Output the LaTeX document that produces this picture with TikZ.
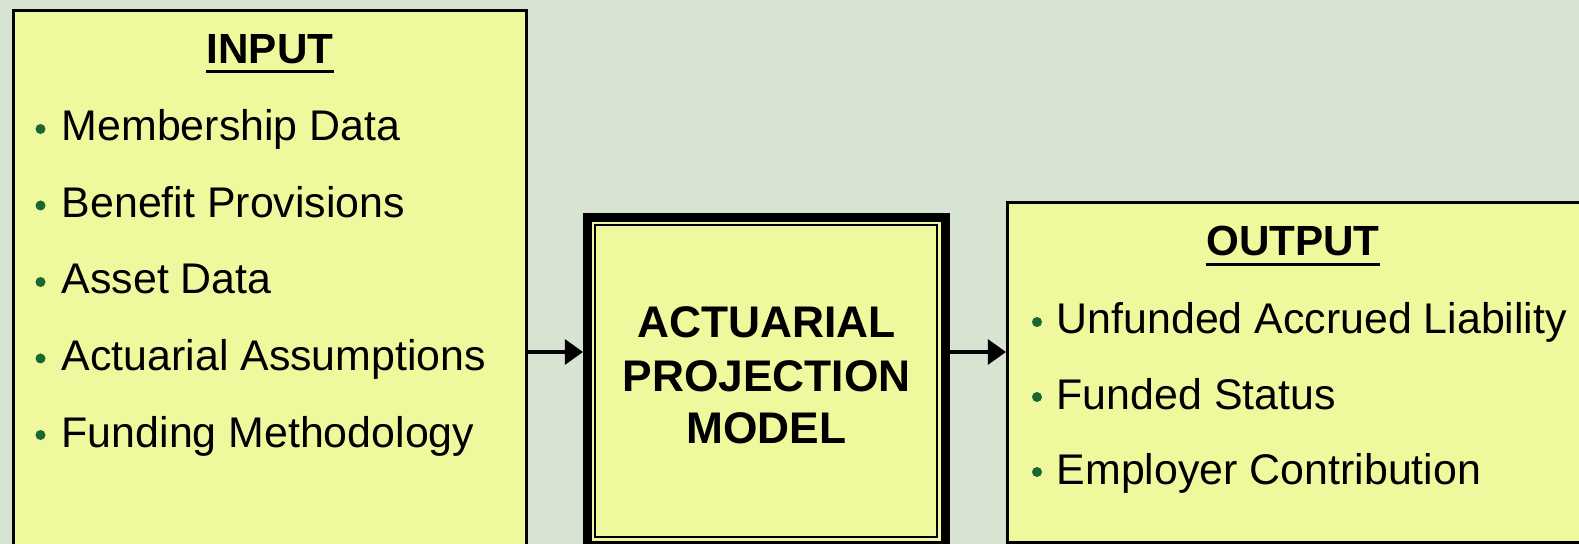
\documentclass[tikz,border=0pt]{standalone}
\usepackage{fontspec}
\setmainfont{Liberation Sans}
\usetikzlibrary{arrows.meta}

\definecolor{pagebg}{RGB}{216,228,210}
\definecolor{boxfill}{RGB}{239,248,156}
\definecolor{dotgreen}{RGB}{24,104,48}

\tikzset{
  box/.style={draw, fill=boxfill, line width=0.075cm, inner sep=0pt},
  item/.style={font=\fontsize{30.5}{36}\selectfont, inner sep=0pt, anchor=base west},
  head/.style={font=\fontsize{30}{36}\selectfont\bfseries, inner sep=0pt, anchor=base},
  flow/.style={line width=0.075cm, -{Triangle[length=0.45cm,width=0.625cm]}},
}

\begin{document}
\begin{tikzpicture}[x=0.025cm, y=-0.025cm]
  \fill[pagebg] (0,0) rectangle (1579,544);
  \useasboundingbox (0,0) rectangle (1579,544);
  \clip (0,0) rectangle (1579,544);

  % the three blocks (they run off the bottom of the page)
  \node[box, minimum width=12.825cm, minimum height=14.7375cm] (input) at (270,305.25) {};
  \node[box, line width=0.225cm, minimum width=8.95cm, minimum height=8.2cm] (model) at (766.5,381.5) {};
  \draw[line width=0.05cm] (595,225) rectangle (937,537);
  \node[box, minimum width=16.0625cm, minimum height=8.4875cm] (output) at (1328.75,372.25) {};

  % input list
  \node[head] (inhead) at (270,63.5) {INPUT};
  \draw[line width=0.075cm] ([yshift=-0.2cm]inhead.base west) -- ([yshift=-0.2cm]inhead.base east);
  \foreach \y/\t [count=\i] in {141/Membership Data,217.5/Benefit Provisions,294/Asset Data,370.5/Actuarial Assumptions,447/Funding Methodology}{
    \fill[dotgreen] (40.5,\y-12) circle (5);
    \node[item] (in\i) at (61.5,\y) {\t};
  }

  % model
  \foreach \y/\t [count=\i] in {338/ACTUARIAL,391/PROJECTION,443/MODEL}{
    \node[head, font=\fontsize{31.5}{37}\selectfont\bfseries] (mod\i) at (766.5,\y) {\t};
  }

  % output list
  \node[head] (outhead) at (1293,256) {OUTPUT};
  \draw[line width=0.075cm] ([yshift=-0.2cm]outhead.base west) -- ([yshift=-0.2cm]outhead.base east);
  \foreach \y/\t [count=\i] in {334/Unfunded Accrued Liability,409/Funded Status,484/Employer Contribution}{
    \fill[dotgreen] (1037,\y-12) circle (5);
    \node[item] (out\i) at (1056.5,\y) {\t};
  }

  % arrows
  \coordinate (lvl) at (0,352);
  \draw[flow] (input.east |- lvl) -- (model.west |- lvl);
  \draw[flow] (model.east |- lvl) -- (output.west |- lvl);
\end{tikzpicture}
\end{document}
